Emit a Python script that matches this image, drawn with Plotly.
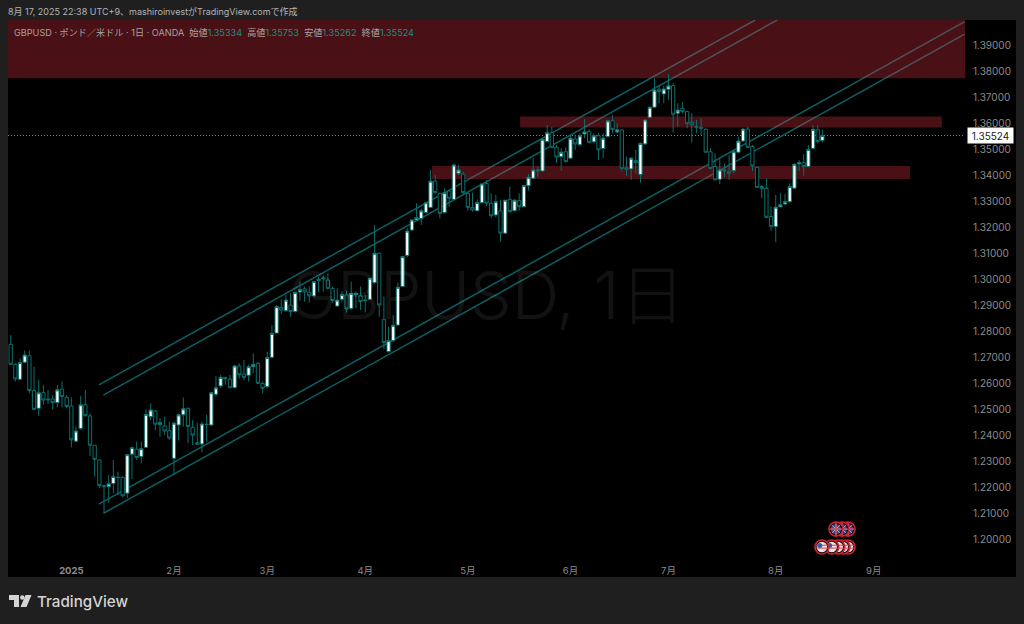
import plotly.graph_objects as go

opens = [1.2750,1.2673,1.2616,1.2681,1.2706,1.2572,1.2504,1.2564,1.2540,1.2540,
1.2526,1.2578,1.2546,1.2513,1.2378,1.2427,1.2518,1.2475,1.2362,1.2306,
1.2207,1.2203,1.2215,1.2239,1.2239,1.2178,1.2328,1.2347,1.2319,1.2354,
1.2472,1.2494,1.2442,1.2436,1.2418,1.2312,1.2440,1.2479,1.2504,1.2431,
1.2372,1.2367,1.2443,1.2440,1.2558,1.2590,1.2623,1.2616,1.2583,1.2667,
1.2636,1.2631,1.2664,1.2677,1.2600,1.2587,1.2700,1.2793,1.2892,1.2879,
1.2901,1.2876,1.2951,1.2963,1.2950,1.2936,1.2995,1.3002,1.2997,1.2965,
1.2897,1.2923,1.2940,1.2888,1.2941,1.2936,1.2921,1.2923,1.2987,1.3100,
1.2846,1.2722,1.2764,1.2824,1.2972,1.3091,1.3189,1.3228,1.3233,1.3256,
1.3276,1.3377,1.3330,1.3256,1.3339,1.3307,1.3407,1.3404,1.3330,1.3276,
1.3263,1.3294,1.3368,1.3292,1.3247,1.3263,1.3177,1.3307,1.3263,1.3302,
1.3279,1.3359,1.3388,1.3420,1.3416,1.3529,1.3563,1.3507,1.3471,1.3490,
1.3465,1.3539,1.3517,1.3558,1.3568,1.3528,1.3552,1.3502,1.3548,1.3609,
1.3566,1.3574,1.3428,1.3424,1.3456,1.3402,1.3520,1.3622,1.3661,1.3730,
1.3712,1.3730,1.3744,1.3638,1.3657,1.3644,1.3603,1.3586,1.3584,1.3576,
1.3490,1.3433,1.3384,1.3420,1.3415,1.3417,1.3488,1.3531,1.3577,1.3510,
1.3430,1.3356,1.3349,1.3241,1.3202,1.3278,1.3289,1.3298,1.3350,1.3443,
1.3448,1.3433,1.3503,1.3574,1.35334]
highs = [1.2786,1.2677,1.2696,1.2726,1.2726,1.2664,1.2613,1.2594,1.2575,1.2555,
1.2594,1.2607,1.2555,1.2546,1.2434,1.2552,1.2575,1.2485,1.2362,1.2308,
1.2207,1.2248,1.2306,1.2261,1.2242,1.2329,1.2357,1.2376,1.2376,1.2500,
1.2523,1.2498,1.2466,1.2472,1.2453,1.2453,1.2485,1.2546,1.2507,1.2459,
1.2449,1.2453,1.2479,1.2564,1.2628,1.2632,1.2623,1.2632,1.2671,1.2677,
1.2690,1.2671,1.2715,1.2683,1.2607,1.2722,1.2824,1.2901,1.2923,1.2940,
1.2946,1.2953,1.2991,1.2972,1.2972,1.2991,1.3010,1.3013,1.3023,1.2972,
1.2965,1.2953,1.2956,1.2991,1.2953,1.2972,1.2940,1.3004,1.3208,1.3102,
1.2933,1.2818,1.2863,1.2987,1.3087,1.3196,1.3230,1.3292,1.3272,1.3298,
1.3420,1.3400,1.3333,1.3349,1.3343,1.3445,1.3440,1.3413,1.3333,1.3333,
1.3307,1.3368,1.3381,1.3330,1.3324,1.3304,1.3304,1.3356,1.3307,1.3330,
1.3360,1.3405,1.3465,1.3433,1.3542,1.3593,1.3586,1.3516,1.3503,1.3507,
1.3554,1.3554,1.3561,1.3615,1.3576,1.3561,1.3561,1.3561,1.3612,1.3631,
1.3599,1.3576,1.3471,1.3469,1.3497,1.3525,1.3615,1.3663,1.3772,1.3746,
1.3743,1.3789,1.3753,1.3676,1.3680,1.3648,1.3638,1.3612,1.3618,1.3580,
1.3503,1.3484,1.3465,1.3445,1.3478,1.3499,1.3548,1.3580,1.3586,1.3516,
1.3433,1.3362,1.3388,1.3279,1.3324,1.3330,1.3328,1.3369,1.3446,1.3458,
1.3481,1.3516,1.3593,1.3593,1.35753]
lows = [1.2673,1.2607,1.2613,1.2677,1.2562,1.2498,1.2475,1.2517,1.2521,1.2500,
1.2508,1.2508,1.2504,1.2354,1.2376,1.2421,1.2472,1.2321,1.2242,1.2197,
1.2101,1.2142,1.2178,1.2171,1.2162,1.2159,1.2232,1.2306,1.2293,1.2352,
1.2459,1.2421,1.2395,1.2402,1.2383,1.2248,1.2380,1.2434,1.2370,1.2363,
1.2363,1.2334,1.2376,1.2436,1.2549,1.2581,1.2594,1.2581,1.2581,1.2619,
1.2613,1.2607,1.2639,1.2598,1.2562,1.2581,1.2696,1.2793,1.2867,1.2876,
1.2856,1.2872,1.2918,1.2914,1.2910,1.2927,1.2950,1.2952,1.2961,1.2910,
1.2895,1.2914,1.2872,1.2882,1.2888,1.2882,1.2872,1.2920,1.2982,1.2856,
1.2731,1.2718,1.2760,1.2822,1.2969,1.3084,1.3187,1.3228,1.3208,1.3253,
1.3275,1.3328,1.3234,1.3253,1.3279,1.3304,1.3400,1.3324,1.3263,1.3260,
1.3263,1.3292,1.3281,1.3234,1.3238,1.3144,1.3174,1.3256,1.3260,1.3263,
1.3276,1.3341,1.3384,1.3392,1.3414,1.3525,1.3503,1.3448,1.3417,1.3449,
1.3461,1.3497,1.3510,1.3542,1.3522,1.3522,1.3458,1.3465,1.3545,1.3561,
1.3561,1.3414,1.3397,1.3382,1.3407,1.3371,1.3516,1.3618,1.3659,1.3676,
1.3676,1.3689,1.3563,1.3586,1.3638,1.3580,1.3525,1.3561,1.3554,1.3487,
1.3423,1.3379,1.3366,1.3392,1.3382,1.3407,1.3484,1.3529,1.3506,1.3416,
1.3352,1.3311,1.3234,1.3186,1.3142,1.3277,1.3285,1.3294,1.3347,1.3416,
1.3398,1.3430,1.3499,1.3522,1.35262]
closes = [1.2673,1.2617,1.2680,1.2709,1.2572,1.2500,1.2564,1.2536,1.2537,1.2526,
1.2575,1.2549,1.2511,1.2383,1.2417,1.2518,1.2476,1.2362,1.2308,1.2207,
1.2203,1.2214,1.2242,1.2238,1.2168,1.2326,1.2353,1.2315,1.2349,1.2481,
1.2498,1.2443,1.2449,1.2417,1.2390,1.2447,1.2479,1.2502,1.2434,1.2401,
1.2366,1.2444,1.2442,1.2564,1.2583,1.2623,1.2618,1.2583,1.2667,1.2633,
1.2623,1.2664,1.2673,1.2600,1.2581,1.2699,1.2792,1.2895,1.2882,1.2920,
1.2876,1.2949,1.2961,1.2951,1.2936,1.2991,1.3000,1.3004,1.2965,1.2918,
1.2920,1.2941,1.2886,1.2946,1.2946,1.2914,1.2918,1.3004,1.3100,1.2901,
1.2757,1.2764,1.2823,1.2969,1.3087,1.3185,1.3228,1.3237,1.3263,1.3294,
1.3377,1.3333,1.3253,1.3333,1.3311,1.3439,1.3420,1.3333,1.3276,1.3266,
1.3295,1.3366,1.3292,1.3244,1.3298,1.3177,1.3304,1.3260,1.3304,1.3279,
1.3360,1.3392,1.3420,1.3417,1.3538,1.3563,1.3507,1.3469,1.3488,1.3452,
1.3542,1.3520,1.3551,1.3567,1.3526,1.3551,1.3497,1.3542,1.3609,1.3576,
1.3574,1.3426,1.3423,1.3465,1.3448,1.3522,1.3612,1.3661,1.3727,1.3721,
1.3731,1.3743,1.3634,1.3650,1.3644,1.3599,1.3593,1.3585,1.3580,1.3488,
1.3426,1.3382,1.3420,1.3417,1.3407,1.3490,1.3531,1.3577,1.3507,1.3435,
1.3353,1.3348,1.3238,1.3202,1.3277,1.3286,1.3298,1.3356,1.3442,1.3448,
1.3433,1.3499,1.3576,1.3529,1.35524]
bar_index = list(range(len(closes)))

month_ticks = [13, 35, 55, 76, 98, 120, 141, 164, 185]
month_labels = ["<b>2025</b>", "2月", "3月", "4月", "5月", "6月", "7月", "8月", "9月"]
price_ticks = [1.20, 1.21, 1.22, 1.23, 1.24, 1.25, 1.26, 1.27, 1.28, 1.29, 1.30, 1.31, 1.32,
               1.33, 1.34, 1.35, 1.36, 1.37, 1.38, 1.39]

x_range = [-0.58, 204.57]
y_range = [1.19251, 1.39961]
last_price = 1.35524

# (start bar, start price, end bar, end price)
channel_lines = [
    (18.9, 1.2594, 159.6, 1.3996),
    (19.85, 1.2555, 164.3, 1.3996),
    (18.9, 1.2136, 204.5, 1.3990),
    (19.9, 1.2101, 204.5, 1.3942),
]
# (start bar, end bar, low price, high price)
zones = [
    (-0.58, 204.57, 1.3772, 1.3996),
    (109.2, 199.6, 1.3583, 1.3625),
    (90.3, 192.8, 1.3385, 1.3435),
]
us_events = [179.5, 178.4, 177.3, 176.0, 173.9]
uk_events = [179.5, 178.2, 176.9]
us_price = 1.1971
uk_price = 1.2040

BG = "#1f1f1f"
PANEL = "#000000"
TEAL = "#0b6063"
WICK = "#0a706c"
ZONE = "rgba(242,54,69,0.3)"
TICK = "#8c8c8c"
FONT = "Inter, 'Noto Sans CJK JP', sans-serif"

W, H = 1024, 624
L, R, T, B = 8, 965, 20, 559


def px(x):
    return (x - L) / (R - L)


def py(y):
    return (B - y) / (B - T)


def poly(points):
    return "M" + " L".join(f"{px(a):.5f},{py(b):.5f}" for a, b in points) + " Z"


shapes = [
    dict(type="rect", xref="paper", yref="paper", x0=px(8), x1=px(1016), y0=py(577), y1=py(20),
         fillcolor=PANEL, line_width=0, layer="below"),
]
for x0, y0, x1, y1 in channel_lines:
    shapes.append(dict(type="line", xref="x", yref="y", x0=x0, y0=y0, x1=x1, y1=y1,
                       line=dict(color=TEAL, width=1.5), layer="below"))
for x0, x1, y0, y1 in zones:
    shapes.append(dict(type="rect", xref="x", yref="y", x0=x0, x1=x1, y0=y0, y1=y1,
                       fillcolor=ZONE, line_width=0, layer="below"))
shapes.append(dict(type="line", xref="paper", yref="y", x0=0, x1=1, y0=last_price, y1=last_price,
                   line=dict(color="#8a8a8a", width=1, dash="1px,2px"), layer="below"))
# TradingView logo
logo = "#d4d4d4"
shapes.append(dict(type="path", xref="paper", yref="paper", line_width=0, fillcolor=logo,
                   path=poly([(9, 595), (19, 595), (19, 607), (14, 607), (14, 600), (9, 600)])))
shapes.append(dict(type="path", xref="paper", yref="paper", line_width=0, fillcolor=logo,
                   path=poly([(25.5, 595), (31.5, 595), (26.5, 607), (20.5, 607)])))
shapes.append(dict(type="circle", xref="paper", yref="paper", line_width=0, fillcolor=logo,
                   x0=px(20), x1=px(24.5), y0=py(599.8), y1=py(595.2)))

fig = go.Figure()
fig.add_trace(go.Candlestick(
    x=bar_index, open=opens, high=highs, low=lows, close=closes,
    increasing=dict(fillcolor="#ffffff", line=dict(color=WICK, width=1)),
    decreasing=dict(fillcolor="#000000", line=dict(color=WICK, width=1)),
    whiskerwidth=0, hoverinfo="skip", showlegend=False,
))


def dots(xs, y, size, color, line_color=None, line_width=0, symbol="circle"):
    fig.add_trace(go.Scatter(
        x=xs, y=[y] * len(xs), mode="markers", hoverinfo="skip", showlegend=False,
        marker=dict(size=size, color=color, symbol=symbol,
                    line=dict(color=line_color or color, width=line_width)),
    ))


# event flags: drawn back to front
for ex in uk_events:
    dots([ex], uk_price, 14, "#000000", "#cc2230", 1.6)
    dots([ex], uk_price, 10.5, "#33478c")
    dots([ex], uk_price, 9, "#e8c8d0", "#e8c8d0", 0.8, "asterisk")
    dots([ex], uk_price, 9, "#d8404c", "#d8404c", 1.4, "cross-thin")
for ex in us_events:
    dots([ex], us_price, 14, "#000000", "#cc2230", 1.6)
    dots([ex], us_price, 10.5, "#f0e4e6")
    dots([ex], us_price + 0.0007, 9, "#d8404c", "#d8404c", 1, "line-ew")
    dots([ex], us_price - 0.0004, 10, "#d8404c", "#d8404c", 1, "line-ew")
    dots([ex - 0.45], us_price + 0.0006, 5, "#3a5aa8")


def text(x, y, s, size, color, anchor="left", **kw):
    return dict(xref="paper", yref="paper", x=px(x), y=py(y), text=s, showarrow=False,
                xanchor=anchor, yanchor="middle", align="left",
                font=dict(family=FONT, size=size, color=color, **kw))


GREY = "#a8a2a2"
VAL = "#1a9080"
legend = ("GBPUSD · ポンド／米ドル · 1日 · OANDA  "
          f"始値<span style='color:{VAL}'>1.35334</span>  "
          f"高値<span style='color:{VAL}'>1.35753</span>  "
          f"安値<span style='color:{VAL}'>1.35262</span>  "
          f"終値<span style='color:{VAL}'>1.35524</span>")

annotations = [
    text(6, 11, "8月 17, 2025 22:38 UTC+9、mashiroinvestがTradingView.comで作成", 9, "#b4b4b4"),
    text(12, 32, legend, 9.15, GREY),
    text(486, 295, "GBPUSD, 1日", 66, "rgba(255,255,255,0.07)", "center", weight=300),
    text(35, 601, "TradingView", 15.2, "#d4d4d4", weight=500),
    dict(xref="paper", yref="y", x=px(990), y=last_price, text="1.35524", showarrow=False,
         xanchor="center", yanchor="middle", bgcolor="#ffffff", borderpad=1.5,
         font=dict(family=FONT, size=10, color="#1a1a1a"), width=42),
]

fig.update_layout(
    width=W, height=H, autosize=False,
    margin=dict(l=L, r=W - R, t=T, b=H - B, pad=0),
    paper_bgcolor=BG, plot_bgcolor=PANEL,
    shapes=shapes, annotations=annotations,
    showlegend=False, boxgap=0.3, boxgroupgap=0,
    font=dict(family=FONT, size=10, color=TICK),
    xaxis=dict(range=x_range, tickmode="array", tickvals=month_ticks, ticktext=month_labels,
               showgrid=False, zeroline=False, showline=False, rangeslider=dict(visible=False),
               ticks="outside", ticklen=3, tickcolor="rgba(0,0,0,0)",
               tickfont=dict(family=FONT, size=9.5, color=TICK), automargin=False),
    yaxis=dict(range=y_range, side="right", tickmode="array", tickvals=price_ticks,
               tickformat=".5f", showgrid=False, zeroline=False, showline=False,
               ticks="outside", ticklen=5, tickcolor="rgba(0,0,0,0)",
               tickfont=dict(family=FONT, size=10, color=TICK), automargin=False),
)

fig.write_html("out.html", config=dict(displayModeBar=False),
               post_script="document.body.style.margin='0';document.body.style.background='#1f1f1f';")
